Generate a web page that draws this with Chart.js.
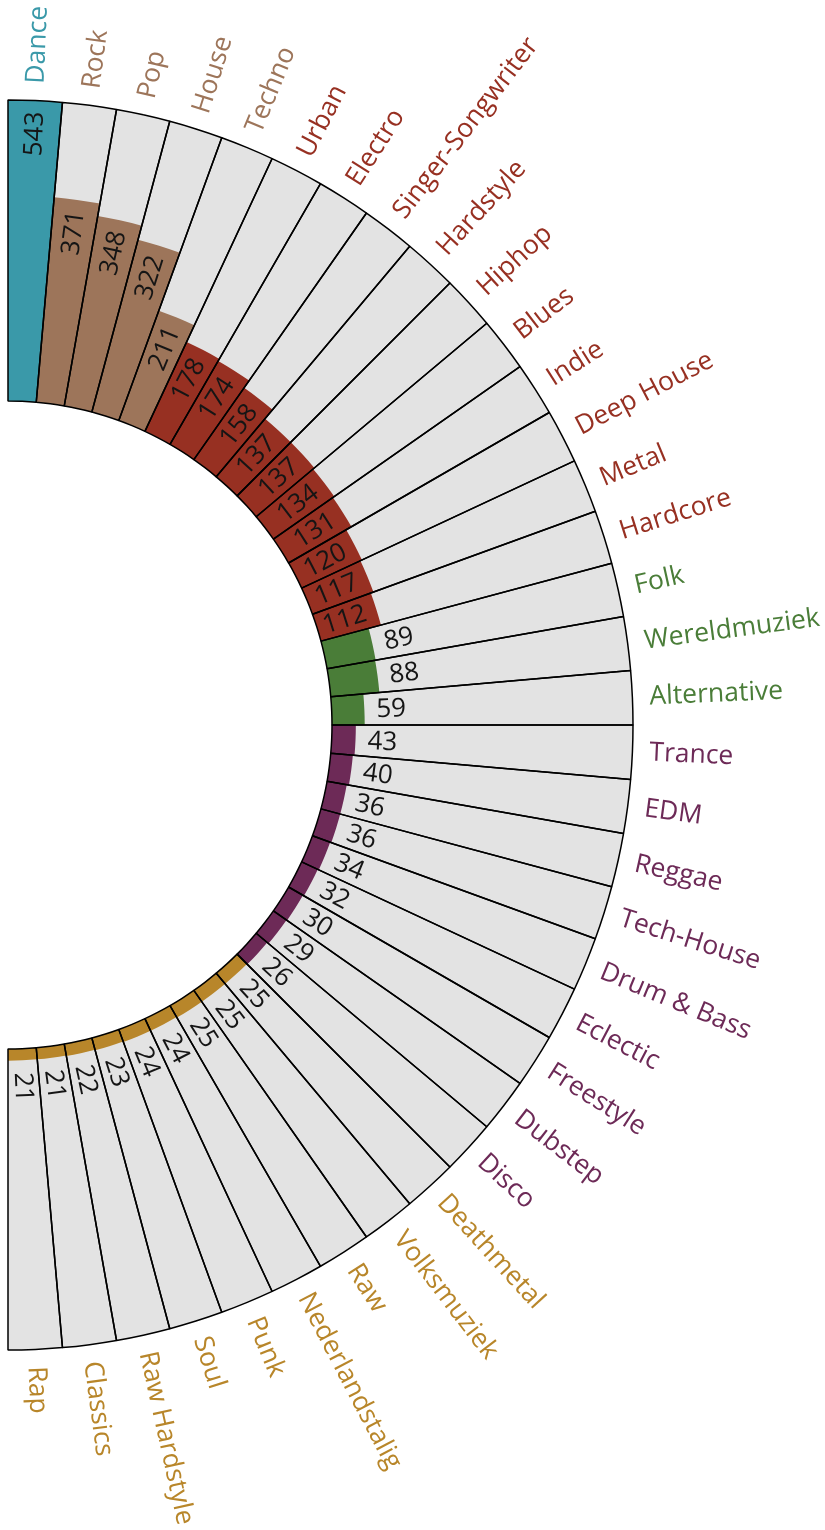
<!DOCTYPE html>
<html>
<head>
<meta charset="utf-8">
<script src="https://cdn.jsdelivr.net/npm/chart.js@4.4.0/dist/chart.umd.min.js"></script>
<style>
  html, body { margin: 0; padding: 0; background: #fff; overflow: hidden; }
  body { width: 825px; height: 1530px; position: relative; }
  /* canvas is shifted left so the centre of the half ring sits at x=8 */
  #genreChart { position: absolute; left: -617px; top: 0; }
</style>
</head>
<body>
<canvas id="genreChart" width="1442" height="1530"></canvas>
<script>
const genres = [
    "Dance", "Rock", "Pop", "House", "Techno",
    "Urban", "Electro", "Singer-Songwriter", "Hardstyle", "Hiphop",
    "Blues", "Indie", "Deep House", "Metal", "Hardcore",
    "Folk", "Wereldmuziek", "Alternative",
    "Trance", "EDM", "Reggae", "Tech-House", "Drum & Bass",
    "Eclectic", "Freestyle", "Dubstep", "Disco",
    "Deathmetal", "Volksmuziek", "Raw", "Nederlandstalig", "Punk",
    "Soul", "Raw Hardstyle", "Classics", "Rap"
];
const plays = [
    543, 371, 348, 322, 211,
    178, 174, 158, 137, 137,
    134, 131, 120, 117, 112,
    89, 88, 59,
    43, 40, 36, 36, 34,
    32, 30, 29, 26,
    25, 25, 25, 24, 24,
    23, 22, 21, 21
];
const genreGroup = [
    "a", "b", "b", "b", "b",
    "c", "c", "c", "c", "c",
    "c", "c", "c", "c", "c",
    "d", "d", "d",
    "e", "e", "e", "e", "e",
    "e", "e", "e", "e",
    "f", "f", "f", "f", "f",
    "f", "f", "f", "f"
];

const groupColors = {
    a: "#3a99a9",
    b: "#9d755a",
    c: "#973022",
    d: "#4a7d38",
    e: "#6d2a57",
    f: "#b8862a"
};

const maxPlays = 543;
const holeRatio = 324 / 625;          // inner radius / outer radius
const sliceAngle = 180 / genres.length; // half circle
const nameFont = '26.5px "Open Sans"';
const valueFont = '26px "Open Sans"';

const barColors = genreGroup.map(g => groupColors[g]);

// polarArea always starts arcs at the centre; turn them into ring segments
const ringPlugin = {
    id: "ring",
    afterDatasetsUpdate(chart) {
        const scale = chart.scales.r;
        const inner = scale.getDistanceFromCenterForValue(0);
        chart.data.datasets.forEach((ds, i) => {
            chart.getDatasetMeta(i).data.forEach(arc => {
                arc.innerRadius = inner;
            });
        });
    },
    afterDatasetsDraw(chart) {
        const ctx = chart.ctx;
        const scale = chart.scales.r;
        const cx = scale.xCenter;
        const cy = scale.yCenter;
        const outer = scale.getDistanceFromCenterForValue(scale.max);
        const bars = chart.getDatasetMeta(1).data;

        ctx.save();
        ctx.textBaseline = "middle";

        bars.forEach((arc, i) => {
            const mid = (arc.startAngle + arc.endAngle) / 2;
            const cos = Math.cos(mid);
            const sin = Math.sin(mid);

            // genre name outside the ring
            const rName = outer + 17;
            ctx.save();
            ctx.translate(cx + rName * cos, cy + rName * sin);
            ctx.rotate(mid);
            ctx.font = nameFont;
            ctx.fillStyle = barColors[i];
            ctx.textAlign = "left";
            ctx.fillText(genres[i], 0, 0);
            ctx.restore();

            // value at the end of the bar
            const inside = plays[i] >= 100;
            const rVal = inside ? arc.outerRadius - 11 : arc.outerRadius + 12;
            ctx.save();
            ctx.translate(cx + rVal * cos, cy + rVal * sin);
            ctx.rotate(mid);
            ctx.font = valueFont;
            ctx.fillStyle = "#151515";
            ctx.textAlign = inside ? "right" : "left";
            ctx.fillText(String(plays[i]), 0, 1);
            ctx.restore();
        });

        ctx.restore();
    }
};

new Chart(document.getElementById("genreChart"), {
    type: "polarArea",
    data: {
        labels: genres,
        datasets: [
            {
                // outlines on top
                label: "outline",
                data: genres.map(() => maxPlays),
                backgroundColor: "rgba(0,0,0,0)",
                borderColor: "#000",
                borderWidth: 1.5,
                angle: sliceAngle
            },
            {
                label: "plays",
                data: plays,
                backgroundColor: barColors,
                borderWidth: 0,
                angle: sliceAngle
            },
            {
                label: "track",
                data: genres.map(() => maxPlays),
                backgroundColor: "#e3e3e3",
                borderWidth: 0,
                angle: sliceAngle
            }
        ]
    },
    options: {
        responsive: false,
        maintainAspectRatio: false,
        devicePixelRatio: 1,
        animation: false,
        events: [],
        layout: {
            padding: { left: 0, top: 100, right: 192, bottom: 180 }
        },
        scales: {
            r: {
                startAngle: 0,
                min: -maxPlays * holeRatio / (1 - holeRatio),
                max: maxPlays,
                grid: { display: false },
                angleLines: { display: false },
                pointLabels: { display: false },
                ticks: { display: false }
            }
        },
        plugins: {
            legend: { display: false },
            tooltip: { enabled: false }
        }
    },
    plugins: [ringPlugin]
});
</script>
</body>
</html>
